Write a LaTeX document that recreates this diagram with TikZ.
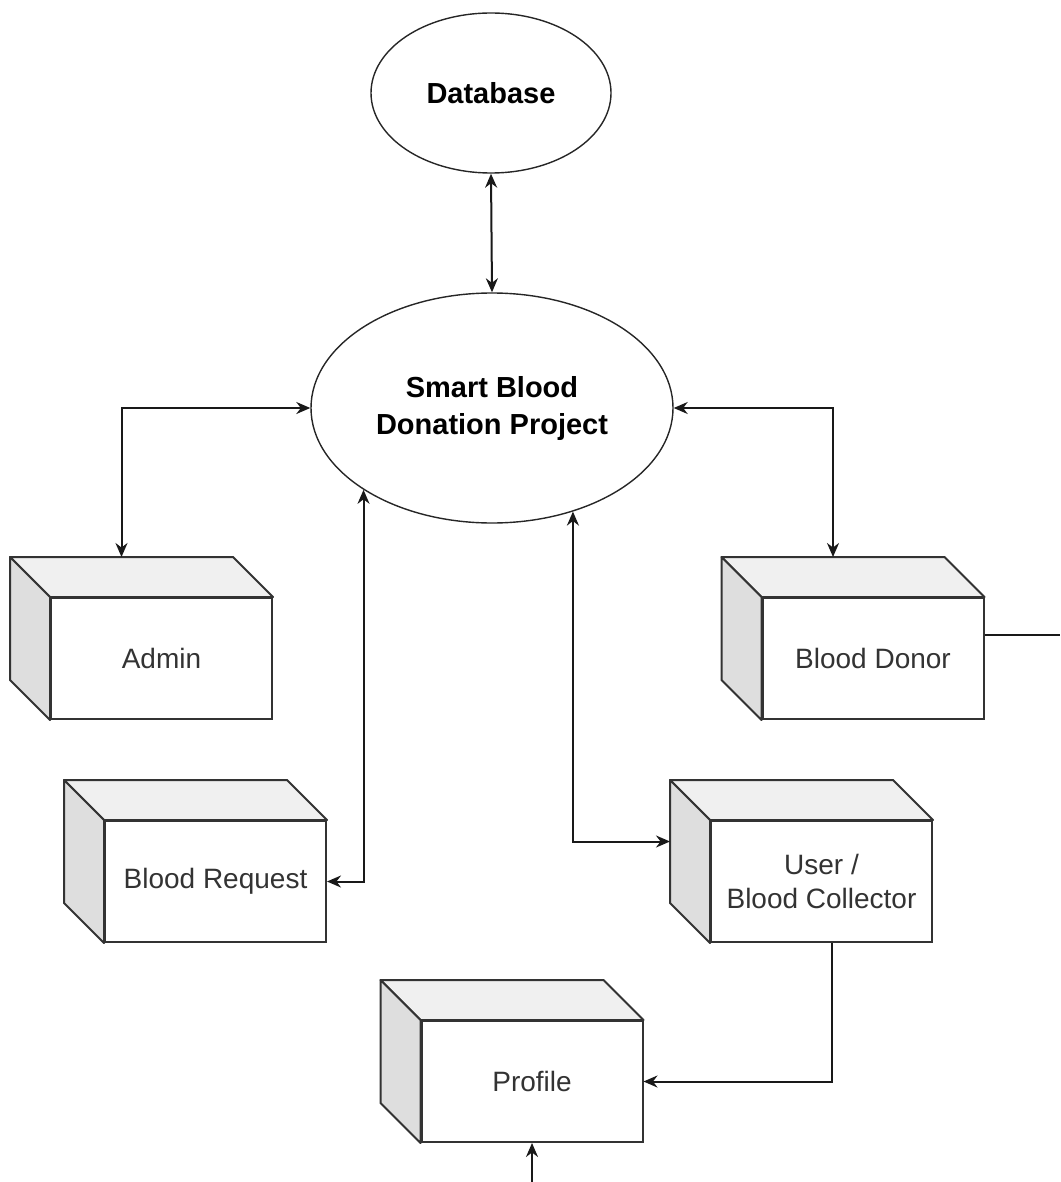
\documentclass[tikz,border=0pt]{standalone}
\usepackage{fontspec}
\setmainfont{Liberation Sans}
\usetikzlibrary{shapes,arrows.meta,calc}

\tikzset{
  face/.style={draw=black!80, line width=1pt, fill=white, inner sep=0pt,
    minimum width=110.5pt, minimum height=60.5pt, align=center,
    font=\fontsize{14}{17}\selectfont, text=black!80},
  oval/.style={ellipse, draw=black!85, line width=0.7pt, inner sep=0pt,
    align=center, font=\bfseries\fontsize{14.5}{18.5}\selectfont},
  link/.style={line width=1pt, draw=black!90},
}

% side and top faces of a box, plus the points where the links meet it
\newcommand{\boxsides}[1]{%
  \filldraw[draw=black!80, line width=1pt, fill=black!6, line join=round]
    (#1.north west) -- ++(-20pt,20pt) -- ($(#1.north east)+(-20pt,20pt)$)
    -- (#1.north east) -- cycle;
  \filldraw[draw=black!80, line width=1pt, fill=black!13, line join=round]
    (#1.north west) -- ++(-20pt,20pt) -- ($(#1.south west)+(-20pt,20pt)$)
    -- (#1.south west) -- cycle;
  \coordinate (#1-top) at ($(#1.north)+(-20pt,20pt)$);
  \coordinate (#1-left) at ($(#1.west)+(-20pt,20pt)$);
}

\begin{document}
\begin{tikzpicture}[x=0.5pt, y=-0.5pt, >={Stealth[length=7pt,width=6pt]}]
    \useasboundingbox (0,0) rectangle (1060,1182);
    % Draw the two ovals
    \node[oval, minimum width=120pt, minimum height=80pt] (db) at (491,93) {Database};
    \node[oval, minimum width=181pt, minimum height=115pt] (sbdp) at (492,408)
        {Smart Blood\\Donation Project};
    % Draw the boxes
    \node[face] (admin) at (161.5,658.5) {Admin};
    \boxsides{admin}
    \node[face] (breq) at (215.5,881.5) {Blood Request};
    \boxsides{breq}
    \node[face] (donor) at (873,658.5) {Blood Donor};
    \boxsides{donor}
    \node[face] (user) at (821.5,881.5) {User /\\Blood Collector};
    \boxsides{user}
    \node[face] (profile) at (532,1081.5) {Profile};
    \boxsides{profile}
    % Draw the links
    \draw[link,<->] (db.south) -- (sbdp.north);
    \draw[link,<->] (sbdp.west) -| (admin-top);
    \draw[link,<->] (sbdp.east) -| (donor-top);
    \draw[link,<->] (breq.east) -| (sbdp.south west);
    \draw[link,<->] (sbdp.-52) |- (user-left);
    \draw[link,->] ([xshift=5.25pt]user.south) |- (profile.east);
    \coordinate (edge) at (1060,635);
    \draw[link] ([yshift=11.75pt]donor.east) -- (edge);
    \coordinate (pin) at (532,1182);
    \draw[link,->] (pin) -- (profile.south);
\end{tikzpicture}
\end{document}
